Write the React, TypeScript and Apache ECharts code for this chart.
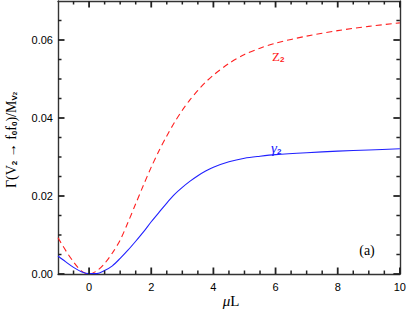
import React, { useEffect, useRef } from "react";
import * as echarts from "echarts";

const xValues = [-1, -0.75, -0.5, -0.25, 0, 0.25, 0.5, 0.75, 1, 1.25, 1.5, 1.75, 2, 2.25, 2.5, 2.75, 3, 3.25, 3.5, 3.75, 4, 4.5, 5, 5.5, 6, 7, 8, 9, 10];
const z2Values = [0.0093, 0.006, 0.0031, 0.0008, 0.0, 0.0008, 0.0027, 0.0054, 0.0087, 0.0132, 0.018, 0.0228, 0.0274, 0.0316, 0.0354, 0.0389, 0.042, 0.0447, 0.0471, 0.0492, 0.051, 0.054, 0.0563, 0.0579, 0.0592, 0.061, 0.0624, 0.0635, 0.0644];
const gamma2Values = [0.0046, 0.0031, 0.0017, 0.0006, 0.0001, 0.0001, 0.0009, 0.0021, 0.004, 0.0061, 0.0084, 0.0108, 0.0134, 0.0158, 0.0182, 0.0204, 0.0222, 0.0238, 0.0252, 0.0264, 0.0274, 0.0288, 0.0297, 0.0302, 0.0306, 0.0311, 0.0315, 0.0318, 0.0321];
const xMajorTicks = [0, 2, 4, 6, 8, 10];
const xMinorTicks = [-0.5, 0.5, 1, 1.5, 2.5, 3, 3.5, 4.5, 5, 5.5, 6.5, 7, 7.5, 8.5, 9, 9.5];
const yMajorTicks = [0, 0.02, 0.04, 0.06];
const yMinorTicks = [0.005, 0.01, 0.015, 0.025, 0.03, 0.035, 0.045, 0.05, 0.055, 0.065];

const SERIF = "'Liberation Serif', 'DejaVu Serif', serif";
const SANS = "'Liberation Sans', Arial, sans-serif";
const FRAME = "#333";
const X_MIN = -1, X_MAX = 10, Y_MIN = 0, Y_MAX = 0.07;

export default function App() {
  const ref = useRef<HTMLDivElement>(null);
  useEffect(() => {
    if (!ref.current) return;
    const chart = echarts.init(ref.current, null, { renderer: "svg" });
    const frame = { show: true, onZero: false, lineStyle: { color: FRAME, width: 1.4 } };
    const xRange = { type: "value", min: X_MIN, max: X_MAX, splitLine: { show: false }, axisLine: frame, axisTick: { show: false } };
    const yRange = { type: "value", min: Y_MIN, max: Y_MAX, splitLine: { show: false }, axisLine: frame, axisTick: { show: false } };
    const sub = (color: string, size = 8) => ({ fontFamily: SANS, fontSize: size, fontWeight: "bold", fill: color, lineHeight: 5, verticalAlign: "bottom" });
    const tickData = [
      ...xMajorTicks.map((v) => [v, 1, 0, 0]),
      ...xMinorTicks.map((v) => [v, 0, 0, 0]),
      ...yMajorTicks.map((v) => [v, 1, 1, 0]),
      ...yMinorTicks.map((v) => [v, 0, 1, 0]),
    ];
    const option: any = {
      animation: false,
      grid: { left: 58, right: 7, top: 1, bottom: 42 },
      xAxis: [
        {
          ...xRange,
          position: "bottom",
          axisLabel: {
            show: true,
            customValues: xMajorTicks,
            margin: 7,
            color: "#000",
            fontFamily: SANS,
            fontSize: 11,
            formatter: (v: number) => String(v),
          },
        },
        { ...xRange, position: "top", axisLabel: { show: false } },
      ],
      yAxis: [
        {
          ...yRange,
          position: "left",
          axisLabel: {
            show: true,
            customValues: yMajorTicks,
            margin: 5,
            color: "#000",
            fontFamily: SANS,
            fontSize: 11,
            formatter: (v: number) => v.toFixed(2),
          },
        },
        { ...yRange, position: "right", axisLabel: { show: false } },
      ],
      series: [
        {
          type: "line",
          xAxisIndex: 0,
          yAxisIndex: 0,
          data: xValues.map((x, i) => [x, z2Values[i]]),
          smooth: 0.3,
          showSymbol: false,
          lineStyle: { color: "#ff2020", width: 1.1, type: [6, 4] },
        },
        {
          type: "line",
          xAxisIndex: 0,
          yAxisIndex: 0,
          data: xValues.map((x, i) => [x, gamma2Values[i]]),
          smooth: 0.3,
          showSymbol: false,
          lineStyle: { color: "#2020ff", width: 1.1 },
        },
        {
          type: "custom",
          xAxisIndex: 0,
          yAxisIndex: 0,
          silent: true,
          clip: false,
          z: 5,
          encode: { x: 0, y: 3 },
          data: tickData,
          renderItem: (params: any, api: any) => {
            const v = api.value(0);
            const major = api.value(1) === 1;
            const isY = api.value(2) === 1;
            const len = major ? 6.5 : 3.5;
            const style = { stroke: "#222", lineWidth: major ? 1.8 : 1.5, fill: null };
            if (!isY) {
              const b = api.coord([v, Y_MIN]);
              const t = api.coord([v, Y_MAX]);
              return {
                type: "group",
                children: [
                  { type: "line", shape: { x1: b[0], y1: b[1], x2: b[0], y2: b[1] - len }, style },
                  { type: "line", shape: { x1: t[0], y1: t[1], x2: t[0], y2: t[1] + len }, style },
                ],
              };
            }
            const l = api.coord([X_MIN, v]);
            const r = api.coord([X_MAX, v]);
            return {
              type: "group",
              children: [
                { type: "line", shape: { x1: l[0], y1: l[1], x2: l[0] + len, y2: l[1] }, style },
                { type: "line", shape: { x1: r[0], y1: r[1], x2: r[0] - len, y2: r[1] }, style },
              ],
            };
          },
        },
      ],
      graphic: [
        {
          type: "text",
          x: 272,
          y: 47,
          style: {
            text: "{n|Z}{s|2}",
            fill: "#ff2020",
            rich: {
              n: { fontFamily: SERIF, fontSize: 13, fill: "#ff2020", lineHeight: 16, verticalAlign: "bottom" },
              s: sub("#ff2020"),
            },
          },
        },
        {
          type: "text",
          x: 271,
          y: 139,
          style: {
            text: "{n|γ}{s|2}",
            fill: "#2020ff",
            rich: {
              n: { fontFamily: SERIF, fontStyle: "italic", fontSize: 15, fill: "#2020ff", lineHeight: 16, verticalAlign: "bottom" },
              s: sub("#2020ff"),
            },
          },
        },
        {
          type: "text",
          x: 367,
          y: 250,
          style: { text: "(a)", fontFamily: SERIF, fontSize: 14, fill: "#000", align: "center", verticalAlign: "middle" },
        },
        {
          type: "text",
          x: 231,
          y: 301,
          style: {
            text: "{m|μ}{n|L}",
            align: "center",
            verticalAlign: "middle",
            rich: {
              m: { fontFamily: SERIF, fontStyle: "italic", fontSize: 15, fill: "#000" },
              n: { fontFamily: SERIF, fontSize: 15, fill: "#000" },
            },
          },
        },
        {
          type: "text",
          x: 10,
          y: 140,
          rotation: Math.PI / 2,
          style: {
            text: "{n|Γ(V}{s|2}{n| → f}{s|0}{n|f}{s|0}{n|)/M}{s|V}{t|2}",
            align: "center",
            verticalAlign: "middle",
            rich: {
              n: { fontFamily: SERIF, fontSize: 14, fill: "#000", lineHeight: 16, verticalAlign: "bottom" },
              s: sub("#000"),
              t: { ...sub("#000", 6), lineHeight: 3 },
            },
          },
        },
      ],
    };
    chart.setOption(option);
    return () => chart.dispose();
  }, []);
  return <div ref={ref} style={{ width: 409, height: 316, position: "absolute", left: 0, top: 0 }} />;
}
